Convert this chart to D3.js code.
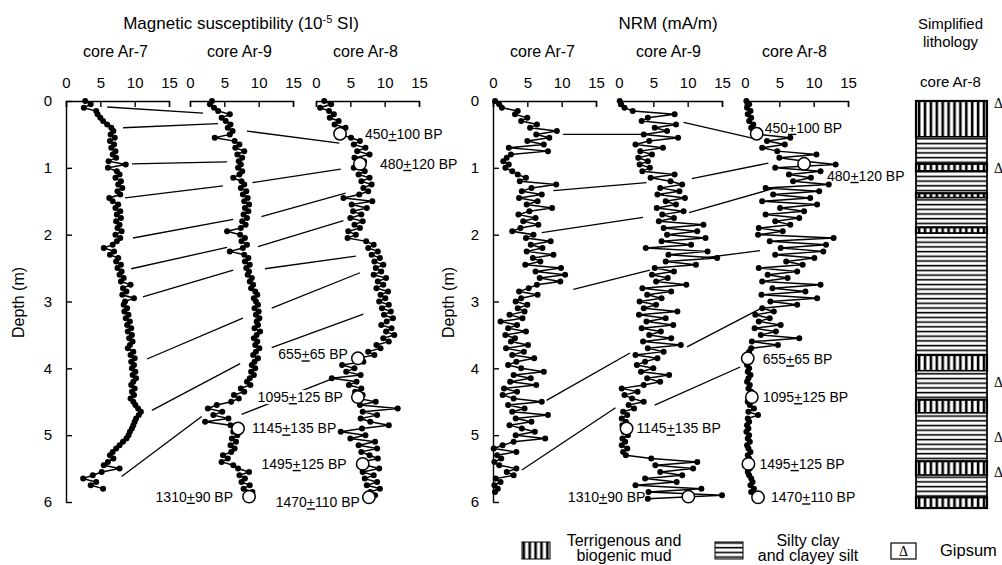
<!DOCTYPE html>
<html><head><meta charset="utf-8">
<script src="https://cdn.jsdelivr.net/npm/d3@7"></script>
<style>
body{margin:0;background:#fff;}
svg text{font-family:"Liberation Sans",Arial,sans-serif;fill:#000;}
</style></head><body>
<svg id="c" width="1002" height="565"></svg>
<script>
// ---------------- DATA ----------------
const depthStep = 0.05;               // sampling interval (m), depth = index * step
const coreNames = ["core Ar-7", "core Ar-9", "core Ar-8"];
const xTicks = [0, 5, 10, 15];
const depthTicks = [0, 1, 2, 3, 4, 5, 6];

// Magnetic susceptibility (10^-5 SI)
const msAr7 = [2.8,3.6,2.6,4.4,4.6,5.0,5.4,6.0,6.6,6.9,
6.5,7.1,6.4,7.0,6.6,7.2,6.8,7.3,6.2,8.7,
6.1,7.4,7.8,7.2,8.0,7.6,8.2,7.5,7.9,6.3,
6.8,7.6,7.2,7.9,7.4,8.0,7.3,7.8,7.5,8.1,
7.2,7.9,7.4,6.8,5.5,7.0,6.4,7.6,7.3,8.0,
7.5,8.1,7.8,8.4,8.0,9.4,8.3,8.8,8.2,9.9,
8.6,8.4,8.9,8.5,9.1,8.7,9.3,8.9,9.5,9.0,
9.6,9.2,9.7,9.3,9.0,9.8,9.4,10.0,9.5,9.9,
9.6,10.1,9.7,10.2,9.8,9.5,10.0,9.6,9.9,9.4,
9.8,10.1,10.5,10.9,10.6,10.2,10.0,9.8,9.6,9.3,
9.1,8.8,8.3,7.8,7.3,6.8,6.4,6.9,6.1,5.5,
7.8,5.2,3.9,2.5,4.4,3.6,5.4];
const msAr9 = [3.2,2.9,3.5,4.1,5.8,4.6,5.2,5.9,5.5,6.2,
5.8,3.6,6.5,7.2,6.6,7.9,6.9,7.6,7.1,7.4,
7.0,7.6,7.2,6.3,7.5,7.9,7.4,8.2,7.7,8.4,
7.9,8.6,8.0,8.5,7.8,8.3,7.6,8.1,7.4,5.4,
7.3,8.0,7.5,8.3,7.7,5.8,7.9,8.5,8.0,8.7,
8.2,8.6,8.4,9.0,8.7,9.2,8.9,9.5,9.8,9.3,
9.6,9.9,9.4,10.0,9.6,10.1,9.7,9.9,9.4,10.2,
9.7,9.3,9.8,9.5,10.1,9.6,9.2,9.9,9.4,9.0,
9.5,8.9,9.3,8.7,8.3,8.8,7.4,7.9,6.4,7.1,
6.0,3.9,2.6,4.7,3.4,5.6,2.2,5.9,7.0,6.3,
6.9,6.1,6.7,5.9,6.5,6.0,4.8,5.5,4.6,6.3,
7.0,8.6,7.2,8.0,7.5,8.7,7.8,9.1,8.2,8.8];
const msAr8 = [1.2,2.2,0.6,1.9,2.6,2.0,3.3,2.7,4.3,3.6,
3.5,5.1,6.4,5.5,7.2,6.0,7.8,5.6,7.0,6.4,
5.5,7.1,6.2,7.8,6.6,8.1,6.9,7.6,6.3,4.0,
8.2,5.2,7.4,5.4,6.6,5.0,6.8,5.6,6.4,4.7,
5.8,4.6,7.3,8.4,7.6,9.0,8.1,9.3,8.5,9.8,
8.7,9.5,8.4,10.2,9.0,9.8,8.8,10.5,9.4,10.1,
9.2,10.6,9.6,10.9,9.9,11.2,10.3,9.5,11.0,10.2,
11.4,9.8,10.6,8.8,9.4,7.6,8.5,6.1,6.9,3.8,
5.6,4.4,6.5,2.3,5.9,4.8,6.6,5.7,6.8,6.1,
8.7,6.4,11.9,6.8,8.9,6.5,7.9,10.6,6.7,3.6,
7.2,5.0,8.6,6.2,8.9,6.6,7.8,9.0,6.7,7.3,
9.2,6.8,8.4,7.1,8.9,7.4,9.3,7.9,8.6,7.7];

// NRM (mA/m)
const nrmAr7 = [0.3,0.9,1.3,3.6,3.2,5.0,4.1,6.4,5.4,9.3,
6.3,8.2,5.0,7.4,2.3,8.0,2.6,2.0,1.5,2.3,
1.8,2.8,3.6,4.8,3.9,9.2,5.6,4.2,7.1,3.8,
6.5,4.9,8.6,5.3,3.7,6.2,4.4,6.6,4.0,2.8,
5.9,4.8,8.4,5.5,7.2,4.9,8.8,5.8,6.9,4.7,
9.9,6.2,10.5,6.8,9.8,6.4,5.2,3.8,6.5,4.1,
3.3,5.0,3.6,4.6,2.4,4.3,1.1,3.5,2.2,4.8,
1.8,3.2,2.6,5.1,1.9,4.5,2.8,6.0,3.4,2.2,
4.1,7.4,3.0,5.5,2.5,6.3,1.6,3.5,1.4,3.0,
7.1,2.2,4.6,2.8,8.0,3.3,5.6,2.4,4.2,6.1,
3.3,7.6,3.0,1.4,0.1,3.4,0.6,1.2,0.2,0.9,
3.4,2.0,3.0,0.4,1.1,0.2,0.7,0.3];
const nrmAr9 = [0.1,0.3,0.8,2.0,8.1,4.2,3.3,8.3,5.2,7.0,
3.6,8.6,4.4,2.4,6.4,3.1,4.8,2.8,4.2,3.0,
4.5,3.4,8.1,4.6,7.5,9.2,6.0,8.8,5.6,9.6,
6.8,8.3,5.5,9.4,6.3,8.0,5.8,12.3,6.5,11.4,
7.0,12.6,6.2,10.5,3.9,12.9,7.2,14.3,6.8,11.2,
5.2,8.0,4.8,7.1,5.4,9.8,3.4,7.6,4.1,6.2,
3.0,5.4,3.6,8.5,2.9,6.8,4.0,7.9,3.3,6.1,
4.4,7.6,3.5,9.0,4.2,6.5,2.4,5.6,3.8,2.6,
5.0,3.2,7.3,4.1,6.0,3.6,0.4,2.7,0.8,1.9,
3.6,1.4,2.2,0.6,1.2,0.4,1.0,0.5,1.1,0.7,
1.3,0.5,0.9,0.4,1.2,0.6,1.0,4.7,11.4,5.3,
10.8,6.0,9.2,3.8,8.4,2.4,12.0,4.3,15.0,4.2];
const nrmAr8 = [0.2,0.6,0.3,0.8,0.4,0.9,0.6,1.2,0.9,1.5,
2.0,6.6,3.2,5.8,2.5,4.7,10.4,5.0,8.7,13.2,
4.4,11.0,6.4,9.6,7.0,12.2,3.0,10.8,4.1,9.5,
2.5,10.5,5.1,8.6,3.0,7.9,4.4,6.6,2.0,5.5,
1.9,12.9,3.6,11.8,5.2,11.4,4.4,10.1,6.0,8.4,
2.0,7.6,3.3,6.2,2.5,11.0,4.0,8.8,2.4,10.5,
3.7,7.6,2.5,4.2,1.5,3.6,2.0,5.2,1.4,4.5,
2.3,7.9,1.0,4.8,0.9,0.6,0.4,0.4,0.7,0.3,
0.6,0.4,0.8,0.5,0.3,0.7,0.5,0.9,0.6,1.0,
0.4,0.7,1.3,0.5,1.9,0.4,0.6,0.3,0.5,0.2,
0.6,0.4,0.7,0.3,0.5,0.8,0.4,0.6,0.3,0.5,
0.7,0.4,0.6,0.9,1.1,0.8,1.3,0.9,1.6,1.9];

// Radiocarbon ages (BP)
const ageValues = ["450","480","655","1095","1145","1495","1310","1470"];
const ageErrors = ["100","120","65","125","135","125","90","110"];
const ageCore   = [2,2,2,2,1,2,1,2];
const ageDepth  = [0.49,0.94,3.85,4.43,4.90,5.43,5.92,5.93];
const msAgeValue  = [3.5,6.4,6.1,6.1,7.0,6.8,8.6,7.7];
const nrmAgeValue = [1.7,8.6,0.4,1.0,1.1,0.5,10.1,1.9];

// Correlation (tie) lines: [fromCore, fromDepth, fromValue, toCore, toDepth, toValue]
const msTies = [
 [0,0.09,6.0,1,0.18,1.9],[0,0.40,8.3,1,0.34,4.1],[0,0.94,9.6,1,0.91,5.4],
 [0,1.45,8.6,1,1.27,4.8],[0,2.05,9.75,1,1.77,6.3],[0,2.51,9.5,1,2.19,5.4],
 [0,2.93,11.2,1,2.53,6.3],[0,3.86,11.8,1,3.25,7.7],[0,4.63,12.5,1,3.93,7.3],
 [0,5.62,8.1,1,4.72,1.7],
 [1,0.45,8.3,2,0.63,3.4],[1,1.22,9.1,2,1.02,3.6],[1,1.73,10.4,2,1.38,4.3],
 [1,2.18,9.9,2,1.79,4.0],[1,2.51,10.9,2,2.32,5.8],[1,3.10,11.9,2,2.57,6.4],
 [1,3.69,11.9,2,3.19,6.9],[1,4.69,7.5,2,4.14,2.8]
];
const nrmTies = [
 [0,0.50,10.2,1,0.50,3.3],[0,1.34,8.8,1,1.22,4.0],[0,1.97,7.1,1,1.74,3.5],
 [0,2.82,11.7,1,2.53,4.5],[0,4.48,7.8,1,3.77,1.6],[0,5.52,4.2,1,4.59,-0.5],
 [1,0.32,9.4,2,0.57,1.7],[1,1.16,10.6,2,0.93,3.4],[1,1.67,10.2,2,1.29,4.8],
 [1,2.35,12.0,2,2.24,2.2],[1,3.68,9.9,2,3.10,2.4],[1,4.55,5.2,2,3.98,-0.7]
];

// Simplified lithology, core Ar-8 (T = terrigenous & biogenic mud, S = silty clay & clayey silt)
const litTop    = [0,0.54,0.94,1.05,1.38,1.45,1.89,1.98,3.80,4.04,4.47,4.67,5.39,5.60,5.93];
const litBottom = [0.54,0.94,1.05,1.38,1.45,1.89,1.98,3.80,4.04,4.47,4.67,5.39,5.60,5.93,6.09];
const litType   = ["T","S","T","S","T","S","T","S","T","S","T","S","T","S","T"];
const gypsumDepths = [0.03,1.0,4.2,5.03,5.55];

// ---------------- LAYOUT ----------------
// label offsets from age circle: [dx, dy, anchor]
const msLabelPos = [[25,5,"start"],[20,5,"start"],[-10,1,"end"],[-15,5,"end"],[14,5,"start"],[-16,5,"end"],[-16,5,"end"],[-9,10,"end"]];
const nrmLabelPos = [[8,-1,"start"],[23,17,"start"],[15,6,"start"],[11,5,"start"],[10,5,"start"],[11,5,"start"],[-43,5,"end"],[13,5,"start"]];

const svg = d3.select("#c");
const y = d3.scaleLinear().domain([0, 6]).range([101, 502]);
const mkX = x0 => d3.scaleLinear().domain([0, 15]).range([x0, x0 + 103]);
const msX = [66, 190, 316].map(mkX);
const nrmX = [493, 619, 745].map(mkX);

// patterns
const defs = svg.append("defs");
const pv = defs.append("pattern").attr("id","vstripe").attr("patternUnits","userSpaceOnUse")
  .attr("width",5.9).attr("height",10).attr("x",917);
pv.append("rect").attr("width",5.9).attr("height",10).attr("fill","#fff");
pv.append("rect").attr("x",0.8).attr("width",2.6).attr("height",10).attr("fill","#000");
const ph = defs.append("pattern").attr("id","hstripe").attr("patternUnits","userSpaceOnUse")
  .attr("width",10).attr("height",4.7).attr("y",0);
ph.append("rect").attr("width",10).attr("height",4.7).attr("fill","#fff");
ph.append("rect").attr("y",1.7).attr("width",10).attr("height",1.6).attr("fill","#000");

function ageText(g, x, yy, anchor, age, err) {
  const t = g.append("text").attr("x", x).attr("y", yy).attr("text-anchor", anchor).attr("font-size", 14);
  t.append("tspan").text(age);
  t.append("tspan").attr("text-decoration", "underline").text("+");
  t.append("tspan").text(err + " BP");
  const bb = t.node().getBBox();
  g.insert("rect", "text:last-of-type")
    .attr("x", bb.x - 1).attr("y", bb.y + 1).attr("width", bb.width + 2).attr("height", bb.height - 2)
    .attr("fill", "#fff");
  return t;
}

function panel(xs, series, ties, ageVals, labelPos, titleNodes, titleX, depthLabelX) {
  const g = svg.append("g");
  // title
  titleNodes(g.append("text").attr("x", titleX).attr("y", 29).attr("text-anchor", "middle").attr("font-size", 17));
  // core labels
  xs.forEach((x, i) => {
    g.append("text").attr("x", (x.range()[0] + x.range()[1]) / 2 - 2).attr("y", 57)
      .attr("text-anchor", "middle").attr("font-size", 16).text(coreNames[i]);
  });
  // top axes
  xs.forEach(x => {
    const a = g.append("g").attr("transform", `translate(0,${y(0)})`)
      .call(d3.axisTop(x).tickValues(xTicks).tickFormat(d3.format("d")).tickSizeInner(-6).tickSizeOuter(-6).tickPadding(13));
    a.attr("font-family", null).attr("font-size", null);
    a.selectAll("path,line").attr("stroke-width", 1.4);
    a.selectAll("text").attr("font-size", 15);
  });
  // depth axis
  const ya = g.append("g").attr("transform", `translate(${xs[0].range()[0]},0)`)
    .call(d3.axisLeft(y).tickValues(depthTicks).tickFormat(d3.format("d")).tickSizeInner(-6).tickSizeOuter(0).tickPadding(14));
  ya.attr("font-family", null).attr("font-size", null);
  ya.selectAll("path,line").attr("stroke-width", 1.4);
  ya.selectAll("text").attr("font-size", 15);
  g.append("text").attr("transform", `translate(${depthLabelX},${(y(0) + y(6)) / 2 + 1}) rotate(-90)`)
    .attr("text-anchor", "middle").attr("font-size", 16).text("Depth (m)");
  // tie lines
  g.append("g").selectAll("line").data(ties).join("line")
    .attr("x1", t => xs[t[0]](t[2])).attr("y1", t => y(t[1]))
    .attr("x2", t => xs[t[3]](t[5])).attr("y2", t => y(t[4]))
    .attr("stroke", "#000").attr("stroke-width", 1.3);
  // age labels
  const lg = g.append("g");
  ageValues.forEach((a, i) => {
    const cx = xs[ageCore[i]](ageVals[i]), cy = y(ageDepth[i]);
    const p = labelPos[i];
    ageText(lg, cx + p[0], cy + p[1], p[2], a, ageErrors[i]);
  });
  // curves
  series.forEach((s, i) => {
    const line = d3.line().x(v => xs[i](v)).y((v, j) => y(j * depthStep));
    g.append("path").attr("d", line(s)).attr("fill", "none").attr("stroke", "#000").attr("stroke-width", 1.5);
    g.append("g").selectAll("circle").data(s).join("circle")
      .attr("cx", v => xs[i](v)).attr("cy", (v, j) => y(j * depthStep)).attr("r", 3.0).attr("fill", "#000");
  });
  // age circles
  g.append("g").selectAll("circle").data(ageValues).join("circle")
    .attr("cx", (a, i) => xs[ageCore[i]](ageVals[i])).attr("cy", (a, i) => y(ageDepth[i]))
    .attr("r", 6.2).attr("fill", "#fff").attr("stroke", "#000").attr("stroke-width", 1.5);
}

panel(msX, [msAr7, msAr9, msAr8], msTies, msAgeValue, msLabelPos, t => {
  t.append("tspan").text("Magnetic susceptibility (10");
  t.append("tspan").attr("dy", -6).attr("font-size", 11).text("-5");
  t.append("tspan").attr("dy", 6).text(" SI)");
}, 241, 24);

panel(nrmX, [nrmAr7, nrmAr9, nrmAr8], nrmTies, nrmAgeValue, nrmLabelPos, t => {
  t.text("NRM (mA/m)");
}, 668, 454);

// ---------------- LITHOLOGY ----------------
const lith = svg.append("g");
const colX0 = 916, colX1 = 987, colMid = (colX0 + colX1) / 2;
lith.append("text").attr("x", colMid - 1).attr("y", 29).attr("text-anchor", "middle").attr("font-size", 15).text("Simplified");
lith.append("text").attr("x", colMid - 1).attr("y", 47).attr("text-anchor", "middle").attr("font-size", 15).text("lithology");
lith.append("text").attr("x", colMid - 1).attr("y", 87).attr("text-anchor", "middle").attr("font-size", 15).text("core Ar-8");
lith.selectAll("rect.layer").data(litType).join("rect").attr("class", "layer")
  .attr("x", colX0).attr("width", colX1 - colX0)
  .attr("y", (t, i) => y(litTop[i])).attr("height", (t, i) => y(litBottom[i]) - y(litTop[i]))
  .attr("fill", t => t === "T" ? "url(#vstripe)" : "url(#hstripe)")
  .attr("stroke", "#000").attr("stroke-width", t => t === "T" ? 2.2 : 1);
lith.append("rect").attr("x", colX0).attr("width", colX1 - colX0)
  .attr("y", y(litTop[0])).attr("height", y(litBottom[litBottom.length - 1]) - y(litTop[0]))
  .attr("fill", "none").attr("stroke", "#000").attr("stroke-width", 1.5);
lith.selectAll("text.gyp").data(gypsumDepths).join("text").attr("class", "gyp")
  .attr("x", 994).attr("y", d => y(d) + 5).attr("font-size", 14)
  .style("font-family", '"Liberation Serif","DejaVu Serif",serif').text("Δ");

// ---------------- LEGEND ----------------
const lg = svg.append("g");
lg.append("rect").attr("x", 522).attr("y", 542).attr("width", 28).attr("height", 17)
  .attr("fill", "url(#vstripe)").attr("stroke", "#000").attr("stroke-width", 1);
lg.append("text").attr("x", 624).attr("y", 546).attr("text-anchor", "middle").attr("font-size", 16).text("Terrigenous and");
lg.append("text").attr("x", 624).attr("y", 561).attr("text-anchor", "middle").attr("font-size", 16).text("biogenic mud");
lg.append("rect").attr("x", 715).attr("y", 542).attr("width", 28).attr("height", 17)
  .attr("fill", "url(#hstripe)").attr("stroke", "#000").attr("stroke-width", 1);
lg.append("text").attr("x", 808).attr("y", 546).attr("text-anchor", "middle").attr("font-size", 16).text("Silty clay");
lg.append("text").attr("x", 808).attr("y", 561).attr("text-anchor", "middle").attr("font-size", 16).text("and clayey silt");
lg.append("rect").attr("x", 891).attr("y", 543).attr("width", 25).attr("height", 16)
  .attr("fill", "#fff").attr("stroke", "#000").attr("stroke-width", 1.2);
lg.append("text").attr("x", 903.5).attr("y", 556).attr("text-anchor", "middle").attr("font-size", 14)
  .style("font-family", '"Liberation Serif","DejaVu Serif",serif').text("Δ");
lg.append("text").attr("x", 940).attr("y", 556).attr("font-size", 16.5).text("Gipsum");
</script>
</body></html>
